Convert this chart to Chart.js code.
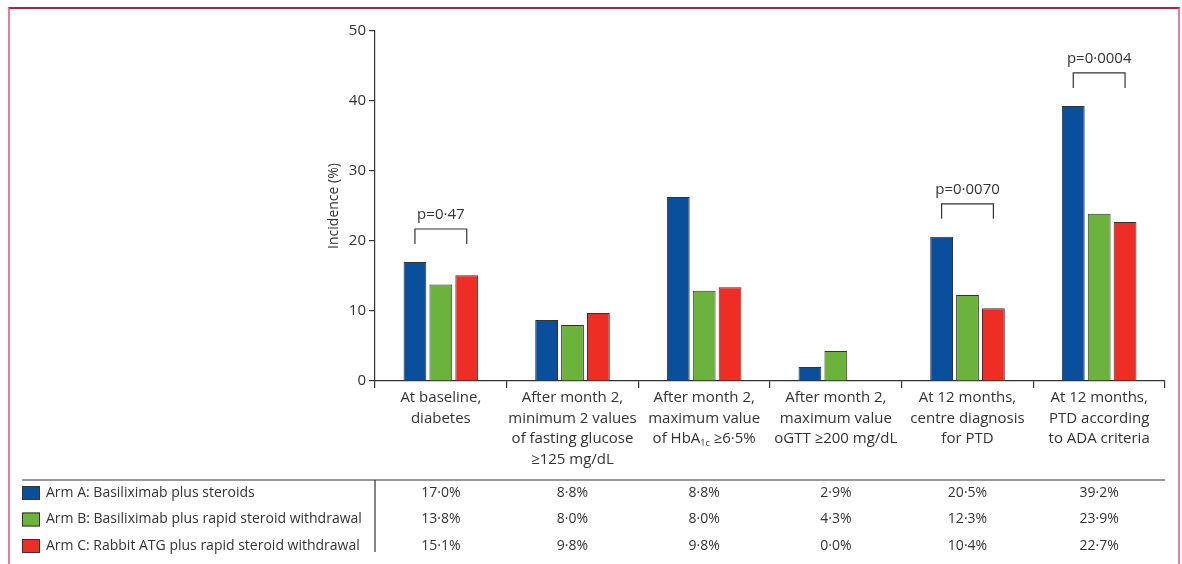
<!DOCTYPE html>
<html>
<head>
<meta charset="utf-8">
<script src="https://cdn.jsdelivr.net/npm/chart.js@4/dist/chart.umd.min.js"></script>
<style>
  html, body { margin: 0; padding: 0; background: #fff; }
  #wrap { position: relative; width: 1182px; height: 564px; overflow: hidden; }
  #frame {
    position: absolute; left: 8px; top: 7px; width: 1168px; height: 600px;
    border-left: 2px solid #e27d9c; border-right: 2px solid #e27d9c; border-top: 2px solid #b4203f;
  }
  #chart { position: absolute; left: 0; top: 0; }
</style>
</head>
<body>
<div id="wrap">
  <div id="frame"></div>
  <canvas id="chart" width="1182" height="564"></canvas>
</div>
<script>
// ---- data ----
const categories = [
  ["At baseline,", "diabetes"],
  ["After month 2,", "minimum 2 values", "of fasting glucose", "≥125 mg/dL"],
  ["After month 2,", "maximum value", "of HbA_{1c} ≥6·5%"],
  ["After month 2,", "maximum value", "oGTT ≥200 mg/dL"],
  ["At 12 months,", "centre diagnosis", "for PTD"],
  ["At 12 months,", "PTD according", "to ADA criteria"]
];
const armNames = [
  "Arm A: Basiliximab plus steroids",
  "Arm B: Basiliximab plus rapid steroid withdrawal",
  "Arm C: Rabbit ATG plus rapid steroid withdrawal"
];
// bar heights as drawn in the figure
const armA = [17.0, 8.7, 26.3, 2.0, 20.6, 39.3];
const armB = [13.8, 8.0, 12.9, 4.3, 12.3, 23.9];
const armC = [15.1, 9.7, 13.4, 0.0, 10.4, 22.7];
// values printed in the table below the chart
const tableA = ["17·0%", "8·8%", "8·8%", "2·9%", "20·5%", "39·2%"];
const tableB = ["13·8%", "8·0%", "8·0%", "4·3%", "12·3%", "23·9%"];
const tableC = ["15·1%", "9·8%", "9·8%", "0·0%", "10·4%", "22·7%"];
const yTicks = [0, 10, 20, 30, 40, 50];
// p values over category index
const pIndex = [0, 4, 5];
const pLabels = ["p=0·47", "p=0·0070", "p=0·0004"];

const colors = ["#0a4f9c", "#6cb33e", "#ee2d24"];
const FONT = "'Open Sans', 'Noto Sans', sans-serif";
const TXT = "#333";

// --- custom drawing: x labels, p brackets, table ---
const extras = {
  id: "extras",
  afterDraw(chart) {
    const { ctx, scales: { x, y }, chartArea } = chart;
    ctx.save();
    ctx.fillStyle = TXT;
    ctx.textBaseline = "middle";

    // category labels (with subscript support)
    categories.forEach((lines, i) => {
      const cx = x.getPixelForValue(i);
      lines.forEach((line, j) => {
        const ly = chartArea.bottom + 17 + j * 20.5;
        const parts = line.split(/_\{([^}]*)\}/);
        let w = 0;
        parts.forEach((p, k) => {
          ctx.font = (k % 2 ? "9px " : "15px ") + FONT;
          w += ctx.measureText(p).width;
        });
        let px = cx - w / 2;
        ctx.textAlign = "left";
        parts.forEach((p, k) => {
          ctx.font = (k % 2 ? "9px " : "15px ") + FONT;
          ctx.fillText(p, px, ly + (k % 2 ? 4 : 0));
          px += ctx.measureText(p).width;
        });
      });
    });

    // p-value brackets
    const metaA = chart.getDatasetMeta(0), metaC = chart.getDatasetMeta(2);
    ctx.strokeStyle = "#333";
    ctx.lineWidth = 1.2;
    pIndex.forEach((ci, k) => {
      const x0 = metaA.data[ci].x, x1 = metaC.data[ci].x;
      const top = Math.min(y.getPixelForValue(armA[ci]), y.getPixelForValue(armB[ci]), y.getPixelForValue(armC[ci]));
      const by = top - 33, legs = 15;
      ctx.beginPath();
      ctx.moveTo(x0, by + legs); ctx.lineTo(x0, by); ctx.lineTo(x1, by); ctx.lineTo(x1, by + legs);
      ctx.stroke();
      ctx.font = "15px " + FONT;
      ctx.textAlign = "center";
      ctx.fillText(pLabels[k], (x0 + x1) / 2, by - 14);
    });

    // table
    const tTop = 480;
    ctx.lineWidth = 1.2;
    ctx.beginPath();
    ctx.moveTo(22, tTop); ctx.lineTo(chartArea.right, tTop);
    ctx.moveTo(chartArea.left, tTop); ctx.lineTo(chartArea.left, 552);
    ctx.stroke();
    const rows = [tableA, tableB, tableC];
    rows.forEach((vals, r) => {
      const ry = 493 + r * 26.5;
      ctx.fillStyle = colors[r];
      ctx.fillRect(22, ry - 7, 18, 14);
      ctx.strokeStyle = "#333";
      ctx.lineWidth = 1;
      ctx.strokeRect(22.5, ry - 6.5, 17, 13);
      ctx.fillStyle = TXT;
      ctx.font = "14px " + FONT;
      ctx.textAlign = "left";
      ctx.fillText(armNames[r], 46, ry);
      ctx.textAlign = "center";
      vals.forEach((v, i) => ctx.fillText(v, x.getPixelForValue(i), ry));
    });
    ctx.restore();
  }
};

new Chart(document.getElementById("chart"), {
  type: "bar",
  data: {
    labels: categories.map(c => c.join(" ")),
    datasets: [armA, armB, armC].map((d, i) => ({
      label: armNames[i],
      data: d,
      backgroundColor: colors[i],
      borderColor: "#333",
      borderWidth: 1,
      categoryPercentage: 0.59,
      barPercentage: 0.88
    }))
  },
  options: {
    responsive: false,
    animation: false,
    layout: { padding: { left: 320, right: 17, top: 31, bottom: 0 } },
    plugins: { legend: { display: false }, tooltip: { enabled: false } },
    scales: {
      x: {
        afterFit: s => { s.height = 183; },
        ticks: { display: false },
        grid: { drawOnChartArea: false, drawTicks: true, tickLength: 7, color: "#333", lineWidth: 1.2, offset: true },
        border: { color: "#333", width: 1.2 }
      },
      y: {
        min: 0, max: 50,
        afterFit: s => { s.width = 55; },
        afterBuildTicks: s => { s.ticks = yTicks.map(v => ({ value: v })); },
        ticks: { color: TXT, font: { family: FONT, size: 15 }, padding: 3 },
        grid: { drawOnChartArea: false, drawTicks: true, tickLength: 6, color: "#333", lineWidth: 1.2 },
        border: { color: "#333", width: 1.2 },
        title: { display: true, text: "Incidence (%)", color: TXT, font: { family: FONT, size: 14 }, padding: { top: 6, bottom: 0 } }
      }
    }
  },
  plugins: [extras]
});
</script>
</body>
</html>
